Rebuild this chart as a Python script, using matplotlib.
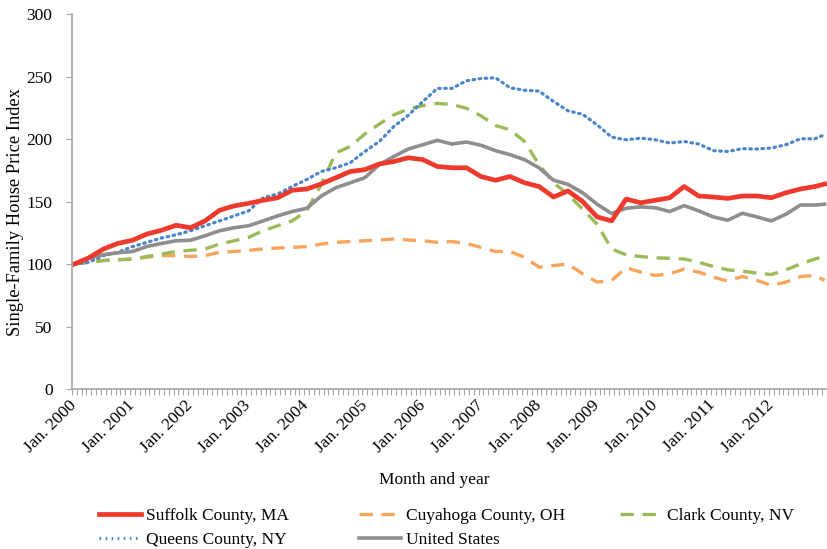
import matplotlib
matplotlib.use("Agg")
import matplotlib.pyplot as plt
import matplotlib.transforms as mtransforms
from matplotlib.lines import Line2D
import numpy as np

# quarterly readings (Jan, Apr, Jul, Oct of each year 2000-2012) plus Dec 2012
months = list(range(0, 156, 3)) + [155]
years = list(range(2000, 2013))
tick_labels = ["Jan. %d" % y for y in years]

suffolk = [100, 105, 112, 116.5, 119, 124, 127, 131, 129, 134.5, 143, 146.5,
           148.5, 151, 153, 159, 160, 164, 169, 174, 175.5, 180, 182, 185,
           183.5, 178, 177, 177, 170, 167, 170, 165, 162, 153.6, 158.5, 150,
           137.7, 134.5, 152, 149, 151, 153, 162, 154.4, 153.6, 152.5, 154.4, 154.4,
           153, 157, 160, 162, 164]
cuyahoga = [100, 101.4, 102.8, 103.5, 104, 105.4, 106.7, 106.7, 106, 106.7, 109.4, 110,
            111, 112, 112.8, 113.3, 113.9, 116, 117.3, 118, 118.6, 119.2, 120, 119.2,
            118.6, 117.3, 118, 116.5, 113.3, 110, 110, 105.4, 97.5, 98.8, 100, 92.2,
            85.5, 86.9, 97, 93.5, 90.8, 92.2, 96, 93.5, 89.5, 86.3, 90, 86.9,
            82.9, 85.5, 90, 90.8, 86.9]
clark = [100, 101.4, 102.8, 103.3, 104, 106, 108, 110, 111, 112, 116, 118.6,
         121.3, 126.6, 130.6, 134.5, 142.5, 163.7, 188.8, 194, 204, 212, 219.3, 224,
         226.7, 228.5, 227.7, 224.6, 218.5, 210.8, 207.4, 198, 179.5, 165, 155.7, 143.8,
         131.9, 112, 107.3, 106, 104.9, 104.6, 104, 101.4, 98, 95.3, 94.3, 92.7,
         91.6, 95.3, 100, 104, 106]
queens = [100, 101.4, 106.7, 109.4, 113.9, 117.3, 120.8, 123.4, 126.6, 130.6, 134.5, 138.5,
          142.5, 153, 156, 162, 167.6, 174, 177, 181, 190, 198, 210, 219,
          230, 240.5, 240.5, 246.6, 248.4, 249, 241, 239, 238.3, 230, 222.5, 219.8,
          211.3, 201.5, 199.4, 200.7, 199.4, 196.8, 198, 196, 190.7, 190, 192.3, 192,
          192.8, 195.4, 200.2, 200.2, 203.4]
us = [100, 104.6, 107.5, 109, 110, 114, 116.5, 118.6, 119, 122.6, 126.6, 129,
      130.6, 134.5, 138.5, 142, 144.6, 154.4, 161, 165, 169, 179.5, 186, 192,
      195.4, 199, 196, 197.6, 195, 190.7, 187.5, 183.5, 177, 167, 163.7, 157,
      147.8, 140.4, 144.6, 145.7, 145, 142, 146.7, 142.5, 137.7, 135, 140.6, 137.7,
      134.5, 139.8, 147.2, 147.2, 147.8]

plt.rcParams["font.family"] = ["Liberation Serif", "DejaVu Serif"]

fig = plt.figure(figsize=(8.27, 5.49), dpi=100)
ax = fig.add_axes([0.087, 0.2914, 0.913, 0.6831])

styles = {
    "Suffolk County, MA": dict(color="#EE3A2C", lw=3.4, ls="-"),
    "Cuyahoga County, OH": dict(color="#F8A45C", lw=2.4, ls=(0, (4, 2.6))),
    "Clark County, NV": dict(color="#9BBB59", lw=2.4, ls=(0, (4, 2.6))),
    "Queens County, NY": dict(color="#4A86C8", lw=2.3, ls=(0, (0.5, 1.4))),
    "United States": dict(color="#8E8E8E", lw=2.6, ls="-"),
}
series = {
    "Cuyahoga County, OH": cuyahoga,
    "Clark County, NV": clark,
    "Queens County, NY": queens,
    "United States": us,
    "Suffolk County, MA": suffolk,
}
for name, vals in series.items():
    st = styles[name]
    cap = "round" if name == "Queens County, NY" else "butt"
    ax.plot(months, vals, color=st["color"], lw=st["lw"], ls=st["ls"],
            solid_joinstyle="round", dash_capstyle=cap)

ax.set_xlim(-0.5, 155.5)
ax.set_ylim(0, 300)
ax.set_yticks(np.arange(0, 301, 50))
ax.set_xticks([12 * k for k in range(len(years))])
ax.set_xticklabels(tick_labels, rotation=45, ha="right", va="center",
                   rotation_mode="anchor", fontsize=12.5)
# nudge the rotated labels a little down and right, like the original
offset = mtransforms.ScaledTranslation(5 / 100, -9 / 100, fig.dpi_scale_trans)
for lbl in ax.get_xticklabels():
    lbl.set_transform(lbl.get_transform() + offset)
ax.set_xticks(np.arange(-0.5, 156, 1), minor=True)
ax.tick_params(axis="x", which="major", length=0, pad=10)
ax.tick_params(axis="x", which="minor", length=4, color="#A6A6A6", width=0.8)
ax.tick_params(axis="y", length=4, color="#A6A6A6", width=0.8, labelsize=12.5, pad=10)

for s in ["top", "right"]:
    ax.spines[s].set_visible(False)
for s in ["left", "bottom"]:
    ax.spines[s].set_color("#A6A6A6")
    ax.spines[s].set_linewidth(1.2)

ax.set_ylabel("Single-Family House Price Index", fontsize=13.3)
ax.yaxis.set_label_coords(-0.064, 0.472)
fig.text(434 / 827, 1 - 480 / 549, "Month and year", ha="center", va="center", fontsize=12.5)

# legend, three columns placed like the original
cols = [
    (99, ["Suffolk County, MA", "Queens County, NY"]),
    (359, ["Cuyahoga County, OH", "United States"]),
    (620, ["Clark County, NV"]),
]
for xpix, names in cols:
    handles = []
    for n in names:
        st = styles[n]
        handles.append(Line2D([], [], color=st["color"], lw=st["lw"], ls=st["ls"]))
    fig.legend(handles, names, loc="upper left", bbox_to_anchor=(xpix / 827, 1 - 508 / 549),
               frameon=False, fontsize=12.5, handlelength=2.4, handletextpad=0.3,
               borderpad=0, borderaxespad=0, labelspacing=0.45)

fig.savefig("out.png", dpi=100)
